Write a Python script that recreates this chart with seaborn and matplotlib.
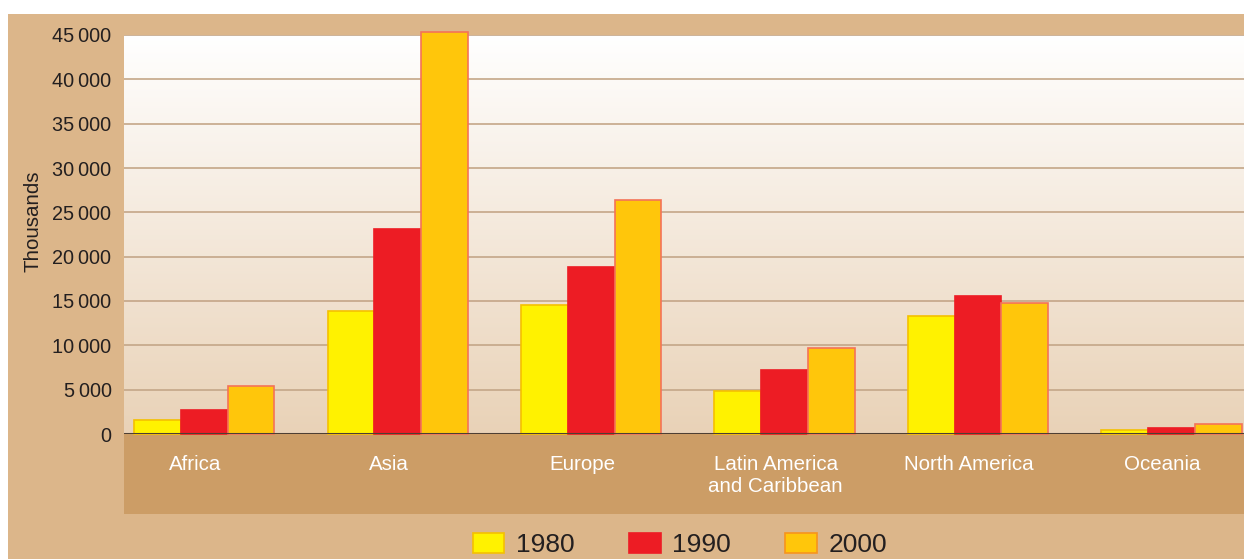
import numpy as np
import pandas as pd
import matplotlib
matplotlib.use("Agg")
import matplotlib.pyplot as plt
import matplotlib.transforms as mtransforms
from matplotlib.patches import Rectangle, Patch
from matplotlib.colors import LinearSegmentedColormap
import seaborn as sns

regions = ["Africa", "Asia", "Europe", "Latin America\nand Caribbean", "North America", "Oceania"]
years = ["1980", "1990", "2000"]
v1980 = [1600, 13900, 14500, 4850, 13300, 500]
v1990 = [2700, 23100, 18800, 7250, 15600, 650]
v2000 = [5400, 45300, 26400, 9700, 14800, 1100]
yticks = [0, 5000, 10000, 15000, 20000, 25000, 30000, 35000, 40000, 45000]

fills = {"1980": "#fff200", "1990": "#ed1c24", "2000": "#ffc60b"}
edges = {"1980": "#f5c000", "1990": "#ed1c24", "2000": "#f47358"}

df = pd.DataFrame({
    "region": regions * 3,
    "year": [y for y in years for _ in regions],
    "value": v1980 + v1990 + v2000,
})

sns.set_theme(style="white")
plt.rcParams["font.family"] = ["Liberation Sans", "DejaVu Sans"]

W, H = 1244, 559
fig = plt.figure(figsize=(W / 100, H / 100), dpi=100, facecolor="white")
fig.patches.append(Rectangle((8 / W, 0), 1 - 8 / W, 1 - 14 / H, transform=fig.transFigure,
                             facecolor="#dcb68a", edgecolor="none", zorder=-10))
fig.patches.append(Rectangle((124 / W, (H - 514) / H), 1 - 124 / W, 80 / H, transform=fig.transFigure,
                             facecolor="#cc9d66", edgecolor="none", zorder=-9))

ax = fig.add_axes([124 / W, (H - 434) / H, 1 - 124 / W, (434 - 35) / H])
ax.set_facecolor("none")

sns.barplot(data=df, x="region", y="value", hue="year", order=regions, hue_order=years,
            palette=fills, width=0.725, ax=ax, legend=False, saturation=1, zorder=3)

for cont, yr in zip(ax.containers, years):
    for bar in cont:
        bar.set_edgecolor(edges[yr])
        bar.set_linewidth(1.2)
        bar.set_clip_on(False)

XL = (-0.415, 5.375)
grad = np.linspace(0, 1, 256).reshape(-1, 1)
cmap = LinearSegmentedColormap.from_list("bg", ["#e9d2b7", "#ffffff"])
ax.imshow(grad, extent=[XL[0], XL[1], 0, 45000], aspect="auto", cmap=cmap,
          origin="lower", zorder=0, interpolation="bicubic")
ax.set_xlim(*XL)
ax.set_ylim(0, 45000)

for t in yticks[1:]:
    ax.axhline(t, color="#c4a688", lw=1.2, zorder=1)
ax.axhline(0, color="#4e3f33", lw=2.2, zorder=4)

ax.set_yticks(yticks)
ax.set_yticklabels([f"{t:,}".replace(",", "\u2009") for t in yticks], fontsize=14.3, color="#231f20")
ax.tick_params(axis="y", length=0, pad=9)
ax.tick_params(axis="x", length=0, pad=15, labelsize=14.8, labelcolor="white")
shift = mtransforms.ScaledTranslation(-9 / 100, 0, fig.dpi_scale_trans)
for lab in ax.get_xticklabels():
    lab.set_transform(lab.get_transform() + shift)
ax.set_xlabel("")
ax.set_ylabel("Thousands", fontsize=14.8, color="#231f20")
ax.yaxis.set_label_coords(-81 / (W - 124), (434 - 221) / 399)
for s in ax.spines.values():
    s.set_visible(False)
ax.grid(False)

handles = [Patch(facecolor=fills[y], edgecolor=edges[y] if y != "2000" else "#f7941d", linewidth=1.2) for y in years]
fig.legend(handles, years, loc="center", bbox_to_anchor=(680 / W, 1 - 545 / H), ncol=3,
           frameon=False, fontsize=19, handlelength=1.2, handleheight=0.8,
           handletextpad=0.45, columnspacing=2.05, labelcolor="#231f20")

fig.savefig("out.png", dpi=100, facecolor=fig.get_facecolor())
